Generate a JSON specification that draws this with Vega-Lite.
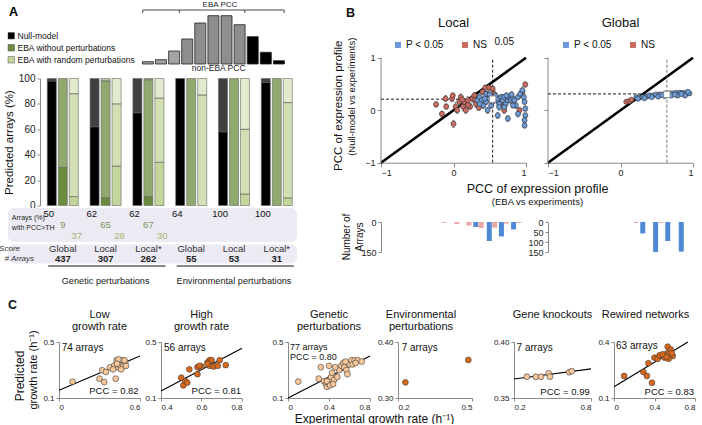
{
"$schema":"https://vega.github.io/schema/vega-lite/v6.json",
"autosize":{"type":"pad"},
"padding":{"left":-10,"top":0,"right":0,"bottom":0},
"background":"white",
"config":{"font":"Liberation Sans","view":{"stroke":null},
 "axis":{"domainColor":"#8a8a8a","tickColor":"#8a8a8a","labelColor":"#222","titleColor":"#111","titleFontWeight":"normal","grid":false,"labelFontSize":9,"tickSize":3,"labelPadding":2},
 "text":{"color":"#111"},"title":{"fontWeight":"normal","color":"#111"},"legend":{"labelColor":"#111"}},
"datasets":{
 "hist":[{"bin":1,"h":2.3,"kind":"fine"},{"bin":2,"h":4.3,"kind":"fine"},{"bin":3,"h":13,"kind":"fine"},{"bin":4,"h":25,"kind":"hatch"},{"bin":5,"h":41,"kind":"hatch"},{"bin":6,"h":48.3,"kind":"hatch"},{"bin":7,"h":48.3,"kind":"hatch"},{"bin":8,"h":39.3,"kind":"hatch"},{"bin":9,"h":27.3,"kind":"eba"},{"bin":10,"h":11.7,"kind":"eba"},{"bin":11,"h":3.3,"kind":"eba"}],
 "bticks":[{"b":0.6},{"b":3.4},{"b":8.4},{"b":11.4}],
 "segs":[
  {"group":"G-Global","type":"Null-model","seg":"sig","lo":0,"hi":98},
  {"group":"G-Global","type":"Null-model","seg":"ns","lo":98,"hi":100},
  {"group":"G-Global","type":"EBA without perturbations","seg":"sig","lo":0,"hi":30},
  {"group":"G-Global","type":"EBA without perturbations","seg":"ns","lo":30,"hi":100},
  {"group":"G-Global","type":"EBA with random perturbations","seg":"sig","lo":0,"hi":7},
  {"group":"G-Global","type":"EBA with random perturbations","seg":"ns","lo":7,"hi":88},
  {"group":"G-Global","type":"EBA with random perturbations","seg":"np","lo":88,"hi":100},
  {"group":"G-Local","type":"Null-model","seg":"sig","lo":0,"hi":62},
  {"group":"G-Local","type":"Null-model","seg":"ns","lo":62,"hi":100},
  {"group":"G-Local","type":"EBA without perturbations","seg":"sig","lo":0,"hi":6},
  {"group":"G-Local","type":"EBA without perturbations","seg":"ns","lo":6,"hi":98},
  {"group":"G-Local","type":"EBA without perturbations","seg":"np","lo":98,"hi":100},
  {"group":"G-Local","type":"EBA with random perturbations","seg":"sig","lo":0,"hi":31},
  {"group":"G-Local","type":"EBA with random perturbations","seg":"ns","lo":31,"hi":80},
  {"group":"G-Local","type":"EBA with random perturbations","seg":"np","lo":80,"hi":100},
  {"group":"G-Local*","type":"Null-model","seg":"sig","lo":0,"hi":73},
  {"group":"G-Local*","type":"Null-model","seg":"ns","lo":73,"hi":100},
  {"group":"G-Local*","type":"EBA without perturbations","seg":"sig","lo":0,"hi":7},
  {"group":"G-Local*","type":"EBA without perturbations","seg":"ns","lo":7,"hi":99},
  {"group":"G-Local*","type":"EBA without perturbations","seg":"np","lo":99,"hi":100},
  {"group":"G-Local*","type":"EBA with random perturbations","seg":"sig","lo":0,"hi":34},
  {"group":"G-Local*","type":"EBA with random perturbations","seg":"ns","lo":34,"hi":84.5},
  {"group":"G-Local*","type":"EBA with random perturbations","seg":"np","lo":84.5,"hi":100},
  {"group":"E-Global","type":"Null-model","seg":"sig","lo":0,"hi":100},
  {"group":"E-Global","type":"EBA without perturbations","seg":"ns","lo":0,"hi":100},
  {"group":"E-Global","type":"EBA with random perturbations","seg":"ns","lo":0,"hi":87},
  {"group":"E-Global","type":"EBA with random perturbations","seg":"np","lo":87,"hi":100},
  {"group":"E-Local","type":"Null-model","seg":"sig","lo":0,"hi":58},
  {"group":"E-Local","type":"Null-model","seg":"ns","lo":58,"hi":100},
  {"group":"E-Local","type":"EBA without perturbations","seg":"ns","lo":0,"hi":100},
  {"group":"E-Local","type":"EBA with random perturbations","seg":"sig","lo":0,"hi":9},
  {"group":"E-Local","type":"EBA with random perturbations","seg":"ns","lo":9,"hi":60},
  {"group":"E-Local","type":"EBA with random perturbations","seg":"np","lo":60,"hi":100},
  {"group":"E-Local*","type":"Null-model","seg":"sig","lo":0,"hi":97},
  {"group":"E-Local*","type":"Null-model","seg":"ns","lo":97,"hi":100},
  {"group":"E-Local*","type":"EBA without perturbations","seg":"ns","lo":0,"hi":100},
  {"group":"E-Local*","type":"EBA with random perturbations","seg":"sig","lo":0,"hi":6},
  {"group":"E-Local*","type":"EBA with random perturbations","seg":"ns","lo":6,"hi":81},
  {"group":"E-Local*","type":"EBA with random perturbations","seg":"np","lo":81,"hi":100}],
 "tab1":[
  {"group":"G-Global","type":"Null-model","v":"50"},{"group":"G-Global","type":"EBA without perturbations","v":"9"},{"group":"G-Global","type":"EBA with random perturbations","v":"37"},
  {"group":"G-Local","type":"Null-model","v":"62"},{"group":"G-Local","type":"EBA without perturbations","v":"65"},{"group":"G-Local","type":"EBA with random perturbations","v":"28"},
  {"group":"G-Local*","type":"Null-model","v":"62"},{"group":"G-Local*","type":"EBA without perturbations","v":"67"},{"group":"G-Local*","type":"EBA with random perturbations","v":"30"},
  {"group":"E-Global","type":"Null-model","v":"64"},{"group":"E-Local","type":"Null-model","v":"100"},{"group":"E-Local*","type":"Null-model","v":"100"}],
 "tab2":[{"group":"G-Global","score":"Global","n":"437"},{"group":"G-Local","score":"Local","n":"307"},{"group":"G-Local*","score":"Local*","n":"262"},{"group":"E-Global","score":"Global","n":"55"},{"group":"E-Local","score":"Local","n":"53"},{"group":"E-Local*","score":"Local*","n":"31"}],
 "persp":[{"name":"Genetic perturbations","from":"G-Global","to":"G-Local*","mid":"G-Local"},{"name":"Environmental perturbations","from":"E-Global","to":"E-Local*","mid":"E-Local"}],
 "loc":[
  {"x":-0.24,"y":0.11,"e":0.05,"sig":"NS"},{"x":-0.16,"y":-0.07,"e":0.05,"sig":"NS"},{"x":-0.11,"y":0.22,"e":0.06,"sig":"NS"},{"x":-0.1,"y":0.07,"e":0.05,"sig":"NS"},{"x":-0.02,"y":0.22,"e":0.06,"sig":"NS"},{"x":-0.01,"y":0.28,"e":0.05,"sig":"NS"},{"x":0,"y":-0.26,"e":0.07,"sig":"NS"},{"x":0.03,"y":0.07,"e":0.08,"sig":"NS"},{"x":0.05,"y":0,"e":0.06,"sig":"NS"},{"x":0.08,"y":0.16,"e":0.07,"sig":"NS"},{"x":0.1,"y":0.25,"e":0.06,"sig":"NS"},{"x":0.13,"y":0.07,"e":0.08,"sig":"NS"},{"x":0.15,"y":0.16,"e":0.06,"sig":"NS"},{"x":0.17,"y":0,"e":0.07,"sig":"NS"},{"x":0.2,"y":0.19,"e":0.07,"sig":"NS"},{"x":0.23,"y":0.07,"e":0.06,"sig":"NS"},{"x":0.26,"y":0.22,"e":0.07,"sig":"NS"},{"x":0.29,"y":0.28,"e":0.06,"sig":"NS"},{"x":0.31,"y":0.12,"e":0.07,"sig":"NS"},{"x":0.35,"y":0.05,"e":0.06,"sig":"NS"},{"x":0.38,"y":0.19,"e":0.06,"sig":"NS"},{"x":0.4,"y":0.35,"e":0.06,"sig":"NS"},{"x":0.44,"y":0.43,"e":0.05,"sig":"NS"},{"x":0.47,"y":0.3,"e":0.06,"sig":"NS"},{"x":0.49,"y":0.43,"e":0.05,"sig":"NS"},{"x":0.54,"y":0.41,"e":0.05,"sig":"NS"},{"x":0.56,"y":0.31,"e":0.06,"sig":"NS"},{"x":0.61,"y":0.19,"e":0.06,"sig":"NS"},{"x":0.65,"y":0.12,"e":0.07,"sig":"NS"},{"x":0.7,"y":0,"e":0.06,"sig":"NS"},{"x":0.91,"y":0,"e":0.05,"sig":"NS"},{"x":0.99,"y":0.49,"e":0.05,"sig":"NS"},{"x":0.95,"y":0.35,"e":0.05,"sig":"NS"},{"x":0.2,"y":0.1,"e":0.06,"sig":"NS"},{"x":0.3,"y":0.2,"e":0.05,"sig":"NS"},{"x":0.12,"y":0.2,"e":0.06,"sig":"NS"},
  {"x":0.33,"y":0.19,"e":0.05,"sig":"P < 0.05"},{"x":0.36,"y":0.25,"e":0.06,"sig":"P < 0.05"},{"x":0.39,"y":0.19,"e":0.05,"sig":"P < 0.05"},{"x":0.41,"y":0.09,"e":0.06,"sig":"P < 0.05"},{"x":0.45,"y":0.16,"e":0.05,"sig":"P < 0.05"},{"x":0.47,"y":0,"e":0.06,"sig":"P < 0.05"},{"x":0.49,"y":0.22,"e":0.05,"sig":"P < 0.05"},{"x":0.52,"y":0.09,"e":0.06,"sig":"P < 0.05"},{"x":0.56,"y":0.25,"e":0.05,"sig":"P < 0.05"},{"x":0.59,"y":0.19,"e":0.05,"sig":"P < 0.05"},{"x":0.61,"y":0.22,"e":0.06,"sig":"P < 0.05"},{"x":0.63,"y":0.12,"e":0.06,"sig":"P < 0.05"},{"x":0.66,"y":0.25,"e":0.05,"sig":"P < 0.05"},{"x":0.68,"y":0.19,"e":0.06,"sig":"P < 0.05"},{"x":0.7,"y":0.25,"e":0.05,"sig":"P < 0.05"},{"x":0.72,"y":0.12,"e":0.06,"sig":"P < 0.05"},{"x":0.75,"y":0.19,"e":0.05,"sig":"P < 0.05"},{"x":0.75,"y":-0.16,"e":0.06,"sig":"P < 0.05"},{"x":0.77,"y":0.25,"e":0.05,"sig":"P < 0.05"},{"x":0.79,"y":0.19,"e":0.06,"sig":"P < 0.05"},{"x":0.82,"y":0.22,"e":0.05,"sig":"P < 0.05"},{"x":0.84,"y":0.19,"e":0.05,"sig":"P < 0.05"},{"x":0.86,"y":0.09,"e":0.06,"sig":"P < 0.05"},{"x":0.89,"y":-0.07,"e":0.06,"sig":"P < 0.05"},{"x":0.89,"y":0.25,"e":0.05,"sig":"P < 0.05"},{"x":0.92,"y":0.31,"e":0.05,"sig":"P < 0.05"},{"x":0.95,"y":0.38,"e":0.06,"sig":"P < 0.05"},{"x":0.97,"y":0.25,"e":0.05,"sig":"P < 0.05"},{"x":0.98,"y":0.16,"e":0.05,"sig":"P < 0.05"},{"x":0.99,"y":0.03,"e":0.05,"sig":"P < 0.05"},{"x":0.99,"y":-0.1,"e":0.05,"sig":"P < 0.05"},{"x":0.98,"y":-0.19,"e":0.05,"sig":"P < 0.05"},{"x":0.98,"y":-0.29,"e":0.05,"sig":"P < 0.05"},{"x":0.36,"y":0.12,"e":0.05,"sig":"P < 0.05"},{"x":0.54,"y":0.16,"e":0.06,"sig":"P < 0.05"},{"x":0.63,"y":0.06,"e":0.06,"sig":"P < 0.05"},{"x":0.7,"y":0.06,"e":0.05,"sig":"P < 0.05"},{"x":0.82,"y":0.09,"e":0.05,"sig":"P < 0.05"},{"x":0.61,"y":-0.1,"e":0.06,"sig":"P < 0.05"},{"x":0.45,"y":0.31,"e":0.05,"sig":"P < 0.05"},{"x":0.5,"y":0.3,"e":0.05,"sig":"P < 0.05"},{"x":0.43,"y":0.22,"e":0.05,"sig":"P < 0.05"},{"x":0.58,"y":0.28,"e":0.05,"sig":"P < 0.05"},{"x":0.73,"y":0.28,"e":0.05,"sig":"P < 0.05"},{"x":0.8,"y":0.3,"e":0.05,"sig":"P < 0.05"}],
 "glo":[
  {"x":0.08,"y":0.16,"e":0.02,"sig":"NS"},{"x":0.12,"y":0.17,"e":0.02,"sig":"NS"},{"x":0.15,"y":0.2,"e":0.02,"sig":"NS"},
  {"x":0.22,"y":0.25,"e":0.02,"sig":"P < 0.05"},{"x":0.26,"y":0.24,"e":0.02,"sig":"P < 0.05"},{"x":0.31,"y":0.25,"e":0.02,"sig":"P < 0.05"},{"x":0.36,"y":0.26,"e":0.03,"sig":"P < 0.05"},{"x":0.4,"y":0.28,"e":0.02,"sig":"P < 0.05"},{"x":0.45,"y":0.28,"e":0.02,"sig":"P < 0.05"},{"x":0.49,"y":0.3,"e":0.03,"sig":"P < 0.05"},{"x":0.54,"y":0.3,"e":0.02,"sig":"P < 0.05"},{"x":0.59,"y":0.3,"e":0.02,"sig":"P < 0.05"},{"x":0.63,"y":0.32,"e":0.03,"sig":"P < 0.05"},{"x":0.68,"y":0.32,"e":0.02,"sig":"P < 0.05"},{"x":0.72,"y":0.32,"e":0.02,"sig":"P < 0.05"},{"x":0.77,"y":0.33,"e":0.02,"sig":"P < 0.05"},{"x":0.82,"y":0.33,"e":0.02,"sig":"P < 0.05"},{"x":0.86,"y":0.33,"e":0.03,"sig":"P < 0.05"},{"x":0.91,"y":0.33,"e":0.02,"sig":"P < 0.05"},{"x":0.95,"y":0.32,"e":0.02,"sig":"P < 0.05"},{"x":0.24,"y":0.22,"e":0.02,"sig":"P < 0.05"},{"x":0.33,"y":0.23,"e":0.02,"sig":"P < 0.05"},{"x":0.43,"y":0.25,"e":0.02,"sig":"P < 0.05"},{"x":0.52,"y":0.26,"e":0.02,"sig":"P < 0.05"},{"x":0.61,"y":0.27,"e":0.02,"sig":"P < 0.05"},{"x":0.7,"y":0.28,"e":0.02,"sig":"P < 0.05"},{"x":0.79,"y":0.28,"e":0.02,"sig":"P < 0.05"},{"x":0.89,"y":0.28,"e":0.02,"sig":"P < 0.05"},{"x":0.93,"y":0.35,"e":0.03,"sig":"P < 0.05"},{"x":0.57,"y":0.29,"e":0.02,"sig":"P < 0.05"},{"x":0.75,"y":0.3,"e":0.02,"sig":"P < 0.05"},{"x":0.84,"y":0.31,"e":0.02,"sig":"P < 0.05"}],
 "lbar":[{"x":-0.14,"n":4,"sig":"NS"},{"x":0.05,"n":10,"sig":"NS"},{"x":0.23,"n":18,"sig":"NS"},{"x":0.33,"n":25,"sig":"P < 0.05"},{"x":0.41,"n":30,"sig":"NS"},{"x":0.53,"n":95,"sig":"P < 0.05"},{"x":0.61,"n":28,"sig":"NS"},{"x":0.71,"n":72,"sig":"P < 0.05"},{"x":0.78,"n":8,"sig":"NS"},{"x":0.89,"n":37,"sig":"P < 0.05"},{"x":0.97,"n":5,"sig":"NS"}],
 "gbar":[{"x":0.23,"n":5,"sig":"NS"},{"x":0.33,"n":57,"sig":"P < 0.05"},{"x":0.52,"n":150,"sig":"P < 0.05"},{"x":0.6,"n":4,"sig":"NS"},{"x":0.7,"n":95,"sig":"P < 0.05"},{"x":0.9,"n":148,"sig":"P < 0.05"}],
 "c1":[{"x":0.1,"y":0.217},{"x":0.3,"y":0.238},{"x":0.32,"y":0.298},{"x":0.335,"y":0.214},{"x":0.347,"y":0.286},{"x":0.377,"y":0.319},{"x":0.41,"y":0.333},{"x":0.427,"y":0.369},{"x":0.42,"y":0.238},{"x":0.44,"y":0.317},{"x":0.45,"y":0.333},{"x":0.47,"y":0.371},{"x":0.476,"y":0.329},{"x":0.49,"y":0.352},{"x":0.496,"y":0.329},{"x":0.44,"y":0.376},{"x":0.4,"y":0.305},{"x":0.46,"y":0.305},{"x":0.485,"y":0.37},{"x":0.43,"y":0.345}],
 "c1l":[{"x":0,"y":0.155},{"x":0.6,"y":0.4}],
 "c2":[{"x":0.5,"y":0.245},{"x":0.51,"y":0.19},{"x":0.52,"y":0.22},{"x":0.53,"y":0.21},{"x":0.54,"y":0.305},{"x":0.58,"y":0.27},{"x":0.58,"y":0.32},{"x":0.6,"y":0.325},{"x":0.59,"y":0.33},{"x":0.63,"y":0.355},{"x":0.64,"y":0.37},{"x":0.64,"y":0.33},{"x":0.65,"y":0.37},{"x":0.66,"y":0.325},{"x":0.68,"y":0.33},{"x":0.69,"y":0.37},{"x":0.72,"y":0.335},{"x":0.63,"y":0.345}],
 "c2l":[{"x":0.4,"y":0.15},{"x":0.8,"y":0.455}],
 "c3":[{"x":0.1,"y":0.217},{"x":0.3,"y":0.238},{"x":0.32,"y":0.32},{"x":0.35,"y":0.22},{"x":0.37,"y":0.2},{"x":0.38,"y":0.18},{"x":0.4,"y":0.2},{"x":0.4,"y":0.33},{"x":0.42,"y":0.25},{"x":0.43,"y":0.28},{"x":0.45,"y":0.23},{"x":0.48,"y":0.25},{"x":0.5,"y":0.3},{"x":0.52,"y":0.33},{"x":0.54,"y":0.35},{"x":0.55,"y":0.32},{"x":0.57,"y":0.3},{"x":0.58,"y":0.27},{"x":0.6,"y":0.34},{"x":0.62,"y":0.37},{"x":0.63,"y":0.34},{"x":0.65,"y":0.37},{"x":0.68,"y":0.37},{"x":0.72,"y":0.36},{"x":0.38,"y":0.22},{"x":0.46,"y":0.32},{"x":0.56,"y":0.36},{"x":0.66,"y":0.35},{"x":0.41,"y":0.19},{"x":0.44,"y":0.2}],
 "c3l":[{"x":0,"y":0.1},{"x":0.8,"y":0.4}],
 "c4":[{"x":0.23,"y":0.328},{"x":0.485,"y":0.368}],
 "c5":[{"x":0.3,"y":0.369},{"x":0.37,"y":0.369},{"x":0.41,"y":0.369},{"x":0.47,"y":0.372},{"x":0.48,"y":0.369},{"x":0.63,"y":0.373},{"x":0.65,"y":0.374}],
 "c5l":[{"x":0.2,"y":0.367},{"x":0.8,"y":0.376}],
 "c6":[{"x":0.1,"y":0.218},{"x":0.29,"y":0.239},{"x":0.325,"y":0.218},{"x":0.34,"y":0.286},{"x":0.375,"y":0.182},{"x":0.4,"y":0.316},{"x":0.43,"y":0.31},{"x":0.45,"y":0.329},{"x":0.5,"y":0.316},{"x":0.51,"y":0.334},{"x":0.53,"y":0.375},{"x":0.54,"y":0.346},{"x":0.56,"y":0.36},{"x":0.58,"y":0.325},{"x":0.54,"y":0.31},{"x":0.48,"y":0.334},{"x":0.52,"y":0.32},{"x":0.57,"y":0.34}],
 "c6l":[{"x":0,"y":0.16},{"x":0.73,"y":0.4}]
},
"spacing":5,
"resolve":{"scale":{"fill":"independent","color":"independent","fillOpacity":"independent","xOffset":"independent"}},
"vconcat":[
 {"spacing":31,
  "resolve":{"scale":{"fill":"independent","color":"independent","fillOpacity":"independent","xOffset":"independent"}},
  "hconcat":[
   {"bounds":"flush","spacing":2.5,
    "resolve":{"scale":{"fill":"independent","color":"independent","fillOpacity":"independent","xOffset":"independent"}},
    "vconcat":[
     {"width":289,"height":71.2,
      "layer":[
       {"data":{"name":"hist"},"mark":{"type":"bar","size":11,"stroke":"#222","strokeWidth":0.8},
        "encoding":{"x":{"field":"bin","type":"quantitative","scale":{"domain":[-9.3,12],"nice":false,"zero":false},"axis":null},
         "y":{"field":"h","type":"quantitative","scale":{"domain":[-11.2,60],"nice":false,"zero":false},"axis":null},
         "y2":{"datum":0},
         "fill":{"field":"kind","type":"nominal","scale":{"domain":["fine","hatch","eba"],"range":["#a3a3a3","#8e8e8e","#000000"]},"legend":null}}},
       {"data":{"values":[{}]},"mark":{"type":"rule","color":"#333","strokeWidth":0.9},"encoding":{"x":{"datum":0.6},"x2":{"datum":11.4},"y":{"datum":54}}},
       {"data":{"name":"bticks"},"mark":{"type":"rule","color":"#333","strokeWidth":0.9},"encoding":{"x":{"field":"b","type":"quantitative"},"y":{"datum":54},"y2":{"datum":51}}},
       {"data":{"values":[{}]},"mark":{"type":"text","fontSize":8,"color":"#222"},"encoding":{"x":{"datum":6.5},"y":{"datum":59},"text":{"value":"EBA PCC"}}},
       {"data":{"values":[{}]},"mark":{"type":"text","fontSize":8.5,"color":"#222"},"encoding":{"x":{"datum":6.4},"y":{"datum":-4},"text":{"value":"non-EBA PCC"}}},
       {"data":{"values":[{}]},"mark":{"type":"text","fontSize":12.5,"fontWeight":"bold","align":"left","color":"#000"},"encoding":{"x":{"datum":-9.6},"y":{"datum":52},"text":{"value":"A"}}},
       {"data":{"values":[{}]},"mark":{"type":"text","fontSize":6,"opacity":0,"align":"left","baseline":"top"},"encoding":{"x":{"datum":-9.742},"y":{"datum":63.3},"text":{"value":"."}}}
      ]},
     {"width":289,"height":127,"data":{"name":"segs"},
      "mark":{"type":"bar","stroke":"#666","strokeWidth":0.6},
      "encoding":{
       "x":{"field":"group","type":"nominal","scale":{"domain":["_","G-Global","G-Local","G-Local*","E-Global","E-Local","E-Local*"],"range":[-9.4,290.2],"paddingInner":0,"paddingOuter":0},"axis":null},
       "xOffset":{"field":"type","type":"nominal","scale":{"domain":["Null-model","EBA without perturbations","EBA with random perturbations"],"paddingInner":0.18,"paddingOuter":0.535}},
       "y":{"field":"lo","type":"quantitative","scale":{"domain":[0,100],"nice":false},"axis":{"values":[0,20,40,60,80,100],"offset":-32,"title":"Predicted arrays (%)","titleFontSize":11.5,"labelFontSize":10,"titleX":-31,"titleY":63.5,"titleBaseline":"middle","tickSize":3}},
       "y2":{"field":"hi"},
       "fill":{"field":"type","type":"nominal","scale":{"domain":["Null-model","EBA without perturbations","EBA with random perturbations"],"range":["#000000","#6b8c3e","#c3d69b"]},
        "legend":{"orient":"none","legendX":-1,"legendY":-47,"title":null,"symbolType":"square","symbolSize":42,"labelFontSize":8.5,"rowPadding":3,"symbolStrokeColor":"#555","symbolStrokeWidth":0.5,"labelOffset":2}},
       "fillOpacity":{"field":"seg","type":"nominal","scale":{"domain":["sig","ns","np"],"range":[1,0.5,0.5]},"legend":null}}},
     {"width":289,"height":34,"view":{"fill":"#eceaf3","cornerRadius":6,"stroke":null},
      "layer":[
       {"data":{"name":"tab1"},"mark":{"type":"text","fontSize":9.5},
        "encoding":{"x":{"field":"group","type":"nominal","scale":{"domain":["_","G-Global","G-Local","G-Local*","E-Global","E-Local","E-Local*"],"range":[-9.4,290.2],"paddingInner":0,"paddingOuter":0},"axis":null},
         "xOffset":{"field":"type","type":"nominal","scale":{"domain":["Null-model","EBA without perturbations","EBA with random perturbations"],"paddingInner":0.18,"paddingOuter":0.535}},
         "y":{"field":"type","type":"nominal","scale":{"domain":["Null-model","EBA without perturbations","EBA with random perturbations"],"paddingInner":0,"paddingOuter":0.93},"axis":null},
         "text":{"field":"v"},
         "color":{"field":"type","type":"nominal","scale":{"domain":["Null-model","EBA without perturbations","EBA with random perturbations"],"range":["#111111","#7e955a","#aab56e"]},"legend":null}}},
       {"data":{"values":[{}]},"mark":{"type":"text","fontSize":7,"align":"left","baseline":"top","lineBreak":"\n","lineHeight":10.5,"color":"#222"},
        "encoding":{"x":{"datum":"_","bandPosition":0.31},"y":{"datum":"Null-model","bandPosition":0},"text":{"value":"Arrays (%)\nwith PCC>TH"}}}
      ]},
     {"width":289,"height":19,"view":{"fill":"#eceaf3","cornerRadius":6,"stroke":null},
      "layer":[
       {"data":{"name":"tab2"},"mark":{"type":"text","fontSize":9.5,"color":"#333"},
        "encoding":{"x":{"field":"group","type":"nominal","scale":{"domain":["_","G-Global","G-Local","G-Local*","E-Global","E-Local","E-Local*"],"range":[-9.4,290.2],"paddingInner":0,"paddingOuter":0},"axis":null},
         "y":{"datum":"Score","type":"nominal","scale":{"domain":["Score","# Arrays"],"paddingInner":0,"paddingOuter":0},"axis":null},
         "text":{"field":"score"}}},
       {"data":{"name":"tab2"},"mark":{"type":"text","fontSize":9.5,"fontWeight":"bold","color":"#222"},
        "encoding":{"x":{"field":"group","type":"nominal"},"y":{"datum":"# Arrays","type":"nominal"},"text":{"field":"n"}}},
       {"data":{"values":[{}]},"mark":{"type":"text","fontSize":8,"fontStyle":"italic","align":"right","color":"#333"},
        "encoding":{"x":{"datum":"_","bandPosition":1.15},"y":{"datum":"Score","type":"nominal"},"text":{"value":"Score"}}},
       {"data":{"values":[{}]},"mark":{"type":"text","fontSize":8,"fontStyle":"italic","align":"right","color":"#333","opacity":0},
        "encoding":{"x":{"datum":"_","bandPosition":0.97},"y":{"datum":"# Arrays","type":"nominal"},"text":{"value":"# Arrays"}}},
       {"data":{"values":[{}]},"mark":{"type":"text","fontSize":8,"fontStyle":"italic","align":"right","color":"#333","dx":14},
        "encoding":{"x":{"datum":"_","bandPosition":0.97},"y":{"datum":"# Arrays","type":"nominal"},"text":{"value":"# Arrays"}}}
      ]},
     {"width":289,"height":20,
      "layer":[
       {"data":{"name":"persp"},"mark":{"type":"rule","color":"#111","strokeWidth":1},
        "encoding":{"x":{"field":"from","type":"nominal","bandPosition":0.16,"scale":{"domain":["_","G-Global","G-Local","G-Local*","E-Global","E-Local","E-Local*"],"range":[-9.4,290.2],"paddingInner":0,"paddingOuter":0},"axis":null},
         "x2":{"field":"to","bandPosition":0.9},
         "y":{"datum":1,"type":"quantitative","scale":{"domain":[0,1],"nice":false},"axis":null}}},
       {"data":{"name":"persp"},"mark":{"type":"text","fontSize":9.2,"baseline":"bottom","color":"#222"},
        "encoding":{"x":{"field":"mid","type":"nominal","bandPosition":0.5},"y":{"datum":0},"text":{"field":"name"}}},
       {"data":{"values":[{}]},"mark":{"type":"text","fontSize":6,"opacity":0,"align":"right","baseline":"bottom"},
        "encoding":{"x":{"datum":"E-Local*","bandPosition":1},"y":{"datum":-0.275},"text":{"value":"."}}}
      ]}
    ]},
   {"bounds":"flush","columns":2,"spacing":{"row":59,"column":22},
    "resolve":{"scale":{"fill":"independent","color":"independent"}},
    "concat":[
     {"width":145,"height":158.7,
      "layer":[
       {"data":{"values":[{}]},"mark":{"type":"rule","color":"#000","strokeWidth":2.6},
        "encoding":{"x":{"datum":-1,"type":"quantitative","scale":{"domain":[-1,1],"nice":false},"axis":{"values":[-1,-0.5,0,0.5,1],"format":"~g","tickSize":4,"title":"PCC of expression profile","titleFontSize":12.5,"titleX":156,"titleY":26,"titleBaseline":"middle"}},
         "y":{"datum":-1,"type":"quantitative","scale":{"domain":[-1,2.0229],"nice":false},"axis":{"values":[-1,-0.5,0,0.5,1],"format":"~g","tickSize":4,"domain":false,"title":null}},
         "x2":{"datum":1},"y2":{"datum":1}}},
       {"data":{"values":[{}]},"mark":{"type":"rule","color":"#8a8a8a","strokeWidth":1},"encoding":{"x":{"datum":-1},"y":{"datum":-1},"y2":{"datum":1}}},
       {"data":{"values":[{}]},"mark":{"type":"rule","color":"#000","strokeWidth":0.9,"strokeDash":[3,2]},"encoding":{"x":{"datum":-1},"x2":{"datum":0.54},"y":{"datum":0.21}}},
       {"data":{"values":[{}]},"mark":{"type":"rule","color":"#000","strokeWidth":0.9,"strokeDash":[3,2]},"encoding":{"x":{"datum":0.54},"y":{"datum":-1},"y2":{"datum":1}}},
       {"data":{"name":"loc"},"mark":{"type":"errorbar","ticks":{"size":3},"color":"#555","thickness":0.7},"encoding":{"x":{"field":"x","type":"quantitative","title":"PCC of expression profile"},"y":{"field":"y","type":"quantitative","title":null},"yError":{"field":"e"}}},
       {"data":{"name":"loc"},"mark":{"type":"circle","size":26,"stroke":"#2a2a2a","strokeWidth":0.6,"opacity":1},
        "encoding":{"x":{"field":"x","type":"quantitative","title":"PCC of expression profile"},"y":{"field":"y","type":"quantitative","title":null},
         "fill":{"field":"sig","type":"nominal","scale":{"domain":["P < 0.05","NS"],"range":["#6c9bd7","#cd6c62"]},
          "legend":{"orient":"none","legendX":12,"legendY":36,"direction":"horizontal","title":null,"symbolType":"square","symbolSize":36,"symbolStrokeWidth":0,"labelFontSize":10,"columnPadding":16,"labelOffset":3}}}},
       {"data":{"values":[{}]},"mark":{"type":"square","size":42,"fill":"white","stroke":"#8a8a8a","strokeWidth":1,"opacity":1},"encoding":{"x":{"datum":0.54},"y":{"datum":0.21}}},
       {"data":{"values":[{}]},"mark":{"type":"text","fontSize":13},"encoding":{"x":{"datum":0},"y":{"datum":1.667},"text":{"value":"Local"}}},
       {"data":{"values":[{}]},"mark":{"type":"text","fontSize":10},"encoding":{"x":{"datum":0.7},"y":{"datum":1.29},"text":{"value":"0.05"}}},
       {"data":{"values":[{}]},"mark":{"type":"text","fontSize":11.5,"angle":270},"encoding":{"x":{"datum":-1.579},"y":{"datum":0.086},"text":{"value":"PCC of expression profile"}}},
       {"data":{"values":[{}]},"mark":{"type":"text","fontSize":9.5,"angle":270},"encoding":{"x":{"datum":-1.4},"y":{"datum":0.257},"text":{"value":"(Null-model vs experiments)"}}},
       {"data":{"values":[{}]},"mark":{"type":"text","fontSize":12.5,"fontWeight":"bold","align":"left"},"encoding":{"x":{"datum":-1.483},"y":{"datum":1.857},"text":{"value":"B"}}},
       {"data":{"values":[{}]},"mark":{"type":"text","fontSize":6,"opacity":0,"align":"left","baseline":"top"},"encoding":{"x":{"datum":-1.69},"y":{"datum":2.0857},"text":{"value":"."}}}
      ]},
     {"width":145,"height":158.7,
      "layer":[
       {"data":{"values":[{}]},"mark":{"type":"rule","color":"#000","strokeWidth":2.6},
        "encoding":{"x":{"datum":-1,"type":"quantitative","scale":{"domain":[-1,1],"nice":false},"axis":{"values":[-1,-0.5,0,0.5,1],"format":"~g","tickSize":4,"title":"(EBA vs experiments)","titleFontSize":9.5,"titleX":-11,"titleY":39,"titleBaseline":"middle"}},
         "y":{"datum":-1,"type":"quantitative","scale":{"domain":[-1,2.0229],"nice":false},"axis":{"values":[-1,-0.5,0,0.5,1],"labels":false,"tickSize":4,"domain":false,"title":null}},
         "x2":{"datum":1},"y2":{"datum":1}}},
       {"data":{"values":[{}]},"mark":{"type":"rule","color":"#8a8a8a","strokeWidth":1},"encoding":{"x":{"datum":-1},"y":{"datum":-1},"y2":{"datum":1}}},
       {"data":{"values":[{}]},"mark":{"type":"rule","color":"#000","strokeWidth":0.9,"strokeDash":[3,2]},"encoding":{"x":{"datum":-1},"x2":{"datum":1},"y":{"datum":0.31}}},
       {"data":{"values":[{}]},"mark":{"type":"rule","color":"#666","strokeWidth":0.9,"strokeDash":[3,2]},"encoding":{"x":{"datum":0.64},"y":{"datum":-1},"y2":{"datum":1}}},
       {"data":{"name":"glo"},"mark":{"type":"errorbar","ticks":{"size":3},"color":"#555","thickness":0.7},"encoding":{"x":{"field":"x","type":"quantitative","title":"(EBA vs experiments)"},"y":{"field":"y","type":"quantitative","title":null},"yError":{"field":"e"}}},
       {"data":{"name":"glo"},"mark":{"type":"circle","size":26,"stroke":"#2a2a2a","strokeWidth":0.6,"opacity":1},
        "encoding":{"x":{"field":"x","type":"quantitative","title":"(EBA vs experiments)"},"y":{"field":"y","type":"quantitative","title":null},
         "fill":{"field":"sig","type":"nominal","scale":{"domain":["P < 0.05","NS"],"range":["#6c9bd7","#cd6c62"]},
          "legend":{"orient":"none","legendX":13,"legendY":36,"direction":"horizontal","title":null,"symbolType":"square","symbolSize":36,"symbolStrokeWidth":0,"labelFontSize":10,"columnPadding":16,"labelOffset":3}}}},
       {"data":{"values":[{}]},"mark":{"type":"square","size":42,"fill":"white","stroke":"#8a8a8a","strokeWidth":1,"opacity":1},"encoding":{"x":{"datum":0.64},"y":{"datum":0.3}}},
       {"data":{"values":[{}]},"mark":{"type":"text","fontSize":13},"encoding":{"x":{"datum":0},"y":{"datum":1.667},"text":{"value":"Global"}}}
      ]},
     {"width":145,"height":30,
      "layer":[
       {"data":{"name":"lbar"},"mark":{"type":"bar","size":5},
        "encoding":{"x":{"field":"x","type":"quantitative","scale":{"domain":[-1,1],"nice":false},"axis":null},
         "y":{"field":"n","type":"quantitative","scale":{"domain":[0,150],"reverse":true,"nice":false},"axis":{"values":[0,50,100,150],"title":null,"labelFontSize":9}},
         "fill":{"field":"sig","type":"nominal","scale":{"domain":["P < 0.05","NS"],"range":["#4f89d6","#e8a6a6"]},"legend":null}}},
       {"data":{"values":[{}]},"mark":{"type":"text","fontSize":10,"angle":270},"encoding":{"x":{"datum":-1.579},"y":{"datum":75},"text":{"value":"Number of"}}},
       {"data":{"values":[{}]},"mark":{"type":"text","fontSize":10,"angle":270},"encoding":{"x":{"datum":-1.386},"y":{"datum":75},"text":{"value":"Arrays"}}}
      ]},
     {"width":145,"height":30,"data":{"name":"gbar"},"mark":{"type":"bar","size":5},
      "encoding":{"x":{"field":"x","type":"quantitative","scale":{"domain":[-1,1],"nice":false},"axis":null},
       "y":{"field":"n","type":"quantitative","scale":{"domain":[0,150],"reverse":true,"nice":false},"axis":{"values":[0,50,100,150],"title":null,"labelFontSize":9}},
       "fill":{"field":"sig","type":"nominal","scale":{"domain":["P < 0.05","NS"],"range":["#4f89d6","#e8a6a6"]},"legend":null}}}
    ]}
  ]},
 {"bounds":"flush","spacing":0,
  "hconcat":[
   {"width":51,"height":56,
    "layer":[
     {"data":{"values":[{}]},"mark":{"type":"text","fontSize":12.5,"fontWeight":"bold","align":"left"},
      "encoding":{"x":{"datum":0,"type":"quantitative","scale":{"domain":[0,1]},"axis":null},
       "y":{"datum":1.661,"type":"quantitative","scale":{"domain":[0,1]},"axis":null},
       "text":{"value":"C"}}},
     {"data":{"values":[{}]},"mark":{"type":"text","fontSize":12,"angle":270},"encoding":{"x":{"datum":0.245},"y":{"datum":0.393},"text":{"value":"Predicted"}}},
     {"data":{"values":[{}]},"mark":{"type":"text","fontSize":11,"angle":270},"encoding":{"x":{"datum":0.5},"y":{"datum":0.5},"text":{"value":"growth rate (h⁻¹)"}}},
     {"data":{"values":[{}]},"mark":{"type":"text","fontSize":6,"opacity":0,"align":"left","baseline":"top"},"encoding":{"x":{"datum":0},"y":{"datum":1.786},"text":{"value":"."}}}
    ]},
   {"width":81,"height":56,
    "title":{"text":["Low","growth rate"],"fontSize":11,"fontWeight":"normal","frame":"group","offset":6,"lineHeight":12.5},
    "layer":[
     {"data":{"name":"c1l"},"mark":{"type":"line","color":"#000","strokeWidth":1.1},
      "encoding":{"x":{"field":"x","type":"quantitative","scale":{"domain":[0,0.6],"nice":false,"zero":false},"axis":{"values":[0,0.2,0.4,0.6],"format":"~g","title":null,"labelFontSize":8}},
       "y":{"field":"y","type":"quantitative","scale":{"domain":[0.1,0.5],"nice":false,"zero":false},"axis":{"values":[0.1,0.2,0.3,0.4,0.5],"format":"~g","title":null,"labelFontSize":8}}}},
     {"data":{"name":"c1"},"mark":{"type":"circle","size":34,"fill":"#f8c79a","stroke":"#3a3a3a","strokeWidth":0.6,"opacity":1},"encoding":{"x":{"field":"x","type":"quantitative"},"y":{"field":"y","type":"quantitative"}}},
     {"data":{"values":[{}]},"mark":{"type":"text","fontSize":10,"align":"left"},"encoding":{"x":{"datum":0.02},"y":{"datum":0.457},"text":{"value":"74 arrays"}}},
     {"data":{"values":[{}]},"mark":{"type":"text","fontSize":9.5,"align":"right"},"encoding":{"x":{"datum":0.59},"y":{"datum":0.15},"text":{"value":"PCC = 0.82"}}}
    ]},
   {"width":21,"height":1,"data":{"values":[{}]},"mark":{"type":"text"},"encoding":{"text":{"value":""}}},
   {"width":81,"height":56,
    "title":{"text":["High","growth rate"],"fontSize":11,"fontWeight":"normal","frame":"group","offset":6,"lineHeight":12.5},
    "layer":[
     {"data":{"name":"c2l"},"mark":{"type":"line","color":"#000","strokeWidth":1.1},
      "encoding":{"x":{"field":"x","type":"quantitative","scale":{"domain":[0.4,0.8],"nice":false,"zero":false},"axis":{"values":[0.4,0.5,0.6,0.7,0.8],"format":"~g","title":null,"labelFontSize":8}},
       "y":{"field":"y","type":"quantitative","scale":{"domain":[0.1,0.5],"nice":false,"zero":false},"axis":{"values":[0.1,0.2,0.3,0.4,0.5],"format":"~g","title":null,"labelFontSize":8}}}},
     {"data":{"name":"c2"},"mark":{"type":"circle","size":34,"fill":"#d9691a","stroke":"#3a3a3a","strokeWidth":0.6,"opacity":1},"encoding":{"x":{"field":"x","type":"quantitative"},"y":{"field":"y","type":"quantitative"}}},
     {"data":{"values":[{}]},"mark":{"type":"text","fontSize":10,"align":"left"},"encoding":{"x":{"datum":0.415},"y":{"datum":0.457},"text":{"value":"56 arrays"}}},
     {"data":{"values":[{}]},"mark":{"type":"text","fontSize":9.5,"align":"right"},"encoding":{"x":{"datum":0.795},"y":{"datum":0.15},"text":{"value":"PCC = 0.81"}}}
    ]},
   {"width":46,"height":1,"data":{"values":[{}]},"mark":{"type":"text"},"encoding":{"text":{"value":""}}},
   {"width":82,"height":56,
    "title":{"text":["Genetic","perturbations"],"fontSize":11,"fontWeight":"normal","frame":"group","offset":6,"lineHeight":12.5},
    "layer":[
     {"data":{"name":"c3l"},"mark":{"type":"line","color":"#000","strokeWidth":1.1},
      "encoding":{"x":{"field":"x","type":"quantitative","scale":{"domain":[0,0.8],"nice":false,"zero":false},"axis":{"values":[0,0.2,0.4,0.6,0.8],"format":"~g","labelFontSize":8,"title":"Experimental growth rate (h⁻¹)","titleFontSize":12,"titleX":86,"titleY":20,"titleBaseline":"middle"}},
       "y":{"field":"y","type":"quantitative","scale":{"domain":[0.1,0.5],"nice":false,"zero":false},"axis":{"values":[0.1,0.2,0.3,0.4,0.5],"format":"~g","title":null,"labelFontSize":8}}}},
     {"data":{"name":"c3"},"mark":{"type":"circle","size":34,"fill":"#f8c79a","stroke":"#3a3a3a","strokeWidth":0.6,"opacity":1},"encoding":{"x":{"field":"x","type":"quantitative","title":"Experimental growth rate (h⁻¹)"},"y":{"field":"y","type":"quantitative"}}},
     {"data":{"values":[{}]},"mark":{"type":"text","fontSize":9,"align":"left"},"encoding":{"x":{"datum":0.02},"y":{"datum":0.462},"text":{"value":"77 arrays"}}},
     {"data":{"values":[{}]},"mark":{"type":"text","fontSize":9,"align":"left"},"encoding":{"x":{"datum":0.02},"y":{"datum":0.395},"text":{"value":"PCC = 0.80"}}}
    ]},
   {"width":28,"height":1,"data":{"values":[{}]},"mark":{"type":"text"},"encoding":{"text":{"value":""}}},
   {"width":74,"height":56,
    "title":{"text":["Environmental","perturbations"],"fontSize":11,"fontWeight":"normal","frame":"group","offset":6,"lineHeight":12.5,"dx":-14},
    "layer":[
     {"data":{"name":"c4"},"mark":{"type":"circle","size":34,"fill":"#d9691a","stroke":"#3a3a3a","strokeWidth":0.6,"opacity":1},
      "encoding":{"x":{"field":"x","type":"quantitative","scale":{"domain":[0.2,0.5],"nice":false,"zero":false},"axis":{"values":[0.2,0.3,0.4,0.5],"format":"~g","title":null,"labelFontSize":8}},
       "y":{"field":"y","type":"quantitative","scale":{"domain":[0.3,0.4],"nice":false,"zero":false},"axis":{"values":[0.3,0.35,0.4],"format":".2f","title":null,"labelFontSize":8}}}},
     {"data":{"values":[{}]},"mark":{"type":"text","fontSize":10,"align":"left"},"encoding":{"x":{"datum":0.215},"y":{"datum":0.39},"text":{"value":"7 arrays"}}}
    ]},
   {"width":42,"height":1,"data":{"values":[{}]},"mark":{"type":"text"},"encoding":{"text":{"value":""}}},
   {"width":77,"height":56,
    "title":{"text":"Gene knockouts","fontSize":11,"fontWeight":"normal","frame":"group","offset":18.5},
    "layer":[
     {"data":{"name":"c5l"},"mark":{"type":"line","color":"#000","strokeWidth":1.1},
      "encoding":{"x":{"field":"x","type":"quantitative","scale":{"domain":[0.2,0.8],"nice":false,"zero":false},"axis":{"values":[0.2,0.4,0.6,0.8],"format":"~g","title":null,"labelFontSize":8}},
       "y":{"field":"y","type":"quantitative","scale":{"domain":[0.35,0.4],"nice":false,"zero":false},"axis":{"values":[0.35,0.36,0.37,0.38,0.39,0.4],"format":".2f","title":null,"labelFontSize":8}}}},
     {"data":{"name":"c5"},"mark":{"type":"circle","size":34,"fill":"#f8c79a","stroke":"#3a3a3a","strokeWidth":0.6,"opacity":1},"encoding":{"x":{"field":"x","type":"quantitative"},"y":{"field":"y","type":"quantitative"}}},
     {"data":{"values":[{}]},"mark":{"type":"text","fontSize":10,"align":"left"},"encoding":{"x":{"datum":0.22},"y":{"datum":0.3945},"text":{"value":"7 arrays"}}},
     {"data":{"values":[{}]},"mark":{"type":"text","fontSize":9.5,"align":"right"},"encoding":{"x":{"datum":0.79},"y":{"datum":0.355},"text":{"value":"PCC = 0.99"}}}
    ]},
   {"width":23,"height":1,"data":{"values":[{}]},"mark":{"type":"text"},"encoding":{"text":{"value":""}}},
   {"width":81,"height":56,
    "title":{"text":"Rewired networks","fontSize":11,"fontWeight":"normal","frame":"group","offset":18.5,"dx":-9},
    "layer":[
     {"data":{"name":"c6l"},"mark":{"type":"line","color":"#000","strokeWidth":1.1},
      "encoding":{"x":{"field":"x","type":"quantitative","scale":{"domain":[0,0.8],"nice":false,"zero":false},"axis":{"values":[0,0.2,0.4,0.6,0.8],"format":"~g","title":null,"labelFontSize":8}},
       "y":{"field":"y","type":"quantitative","scale":{"domain":[0.1,0.4],"nice":false,"zero":false},"axis":{"values":[0.1,0.2,0.3,0.4],"format":"~g","title":null,"labelFontSize":8}}}},
     {"data":{"name":"c6"},"mark":{"type":"circle","size":34,"fill":"#d9691a","stroke":"#3a3a3a","strokeWidth":0.6,"opacity":1},"encoding":{"x":{"field":"x","type":"quantitative"},"y":{"field":"y","type":"quantitative"}}},
     {"data":{"values":[{}]},"mark":{"type":"text","fontSize":10,"align":"left"},"encoding":{"x":{"datum":0.02},"y":{"datum":0.38},"text":{"value":"63 arrays"}}},
     {"data":{"values":[{}]},"mark":{"type":"text","fontSize":9.5,"align":"right"},"encoding":{"x":{"datum":0.79},"y":{"datum":0.13},"text":{"value":"PCC = 0.83"}}}
    ]}
  ]}
]
}
